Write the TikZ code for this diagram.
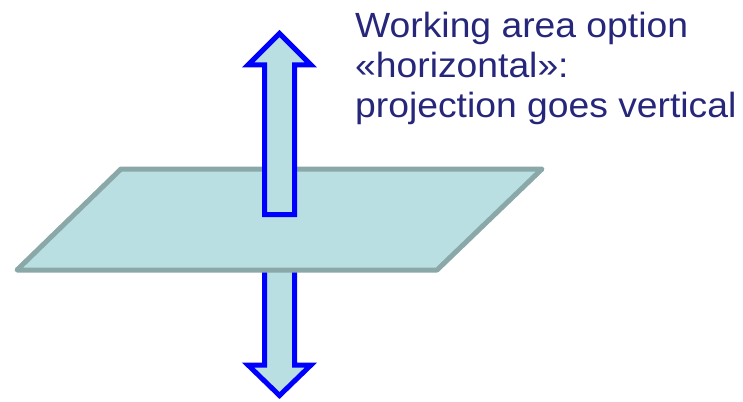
\documentclass[tikz,border=0pt]{standalone}
\usepackage{fontspec}
\setmainfont{Liberation Sans}
\definecolor{planefill}{RGB}{186,223,227}
\definecolor{planeedge}{RGB}{138,168,168}
\definecolor{arrowblue}{RGB}{0,0,255}
\definecolor{textnavy}{RGB}{38,38,122}
\newcommand{\wide}[1]{\scalebox{1.065}[1]{#1}}
\begin{document}
\begin{tikzpicture}[x=1pt,y=-1pt,
  plane/.style={fill=planefill,draw=planeedge,line width=5pt,line join=round},
  bigarrow/.style={fill=planefill,draw=arrowblue,line width=5pt,line join=miter},
  caption/.style={anchor=base west,inner sep=0pt,text=textnavy,font=\fontsize{35}{40}\selectfont}]
\useasboundingbox (0,0) rectangle (743,401);
% down arrow (behind plane)
\draw[bigarrow] (264.5,240) -- (264.5,365) -- (248,365) -- (279.5,395.5) -- (311,365) -- (294.5,365) -- (294.5,240) -- cycle;
% plane
\draw[plane] (121,169) -- (542,169) -- (437,270) -- (17,270) -- cycle;
% up arrow (in front)
\draw[bigarrow] (264.5,214.5) -- (264.5,65) -- (248,65) -- (279.5,33.5) -- (311,65) -- (294.5,65) -- (294.5,214.5) -- cycle;
% caption
\node[caption] (t1) at (355,37.3) {\wide{Working area option}};
\node[caption] (t2) at (355,77.5) {\wide{«horizontal»:}};
\node[caption] (t3) at (355,117.5) {\wide{projection goes vertical}};
\end{tikzpicture}
\end{document}
